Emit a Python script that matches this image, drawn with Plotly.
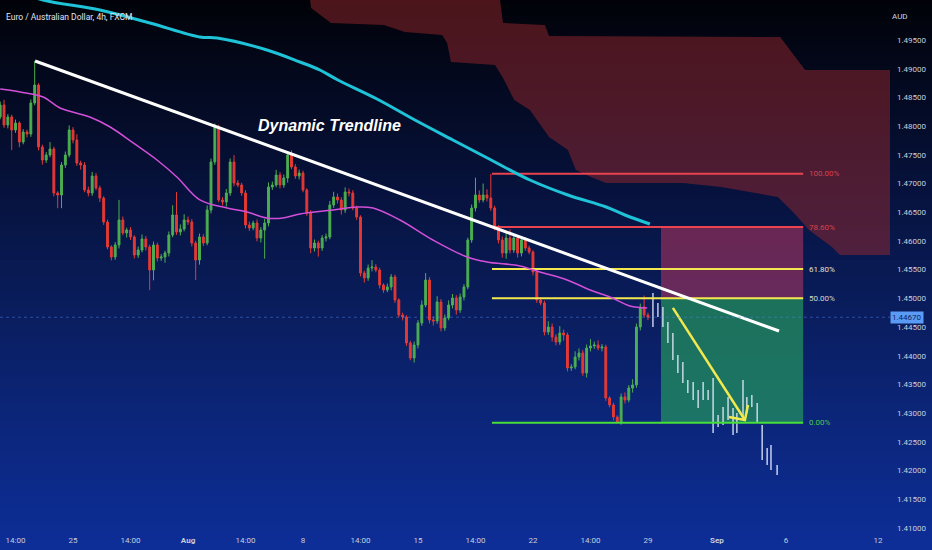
import plotly.graph_objects as go

# EUR/AUD 4h candles, x = bar index (0 = Mon 25 Jul 2022 00:00, 30 bars per trading week)
bar_idx = list(range(-19, 151))
first_open = 1.48159
closes = [
    1.48368, 1.48019, 1.48159, 1.47932, 1.48054, 1.47723, 1.47897, 1.47862, 1.48403, 1.48716,
    1.47636, 1.47409, 1.47497, 1.47601, 1.46835, 1.46800, 1.47322, 1.47497, 1.47932, 1.47758,
    1.47357, 1.47322, 1.46887, 1.46835, 1.47131, 1.46922, 1.46747, 1.46329, 1.45894, 1.45720,
    1.45929, 1.46364, 1.46138, 1.46190, 1.46068, 1.45754, 1.45841, 1.46033, 1.45894, 1.45493,
    1.45929, 1.45702, 1.45720, 1.45789, 1.46103, 1.46451, 1.46155, 1.46207, 1.46364, 1.46329,
    1.45963, 1.45667, 1.46068, 1.45963, 1.46538, 1.47375, 1.47984, 1.46713, 1.46678, 1.46835,
    1.47375, 1.47009, 1.46974, 1.46835, 1.46277, 1.46225, 1.46312, 1.46051, 1.46190, 1.46312,
    1.46939, 1.46974, 1.47148, 1.46974, 1.47096, 1.47497, 1.47288, 1.47131, 1.47183, 1.46887,
    1.46486, 1.45876, 1.45963, 1.45876, 1.46051, 1.46068, 1.46626, 1.46765, 1.46713, 1.46538,
    1.46852, 1.46835, 1.46573, 1.46416, 1.45441, 1.45354, 1.45528, 1.45545, 1.45493, 1.45232,
    1.45145, 1.45197, 1.45371, 1.44970, 1.44709, 1.44674, 1.44221, 1.43960, 1.44186, 1.44570,
    1.44883, 1.45319, 1.44622, 1.44605, 1.44936, 1.44483, 1.44657, 1.44883, 1.45005, 1.44796,
    1.45023, 1.45197, 1.46016, 1.46573, 1.46800, 1.46713, 1.46800, 1.46747, 1.46573, 1.46225,
    1.46016, 1.45789, 1.46051, 1.45841, 1.46051, 1.45789, 1.46016, 1.45876, 1.45807, 1.45458,
    1.44970, 1.44918, 1.44413, 1.44500, 1.44326, 1.44239, 1.44396, 1.44361, 1.43786, 1.43803,
    1.43977, 1.44047, 1.43699, 1.44134, 1.44169, 1.44186, 1.44134, 1.44152, 1.43263, 1.43141,
    1.42932, 1.42845, 1.43281, 1.43228, 1.43437, 1.43490, 1.44500, 1.44848, 1.44709, 1.44670,
]
# wick lengths in pips above / below the body
wick_up = [
    6, 9, 5, 4, 6, 3, 5, 4, 6, 42,
    3, 4, 5, 12, 4, 3, 5, 6, 8, 5,
    10, 4, 5, 6, 7, 5, 4, 3, 4, 3,
    5, 35, 6, 4, 5, 3, 6, 8, 5, 4,
    6, 4, 5, 4, 6, 17, 40, 8, 10, 6,
    5, 4, 6, 5, 8, 6, 6, 4, 5, 7,
    6, 12, 5, 4, 5, 6, 4, 6, 5, 7,
    8, 6, 9, 5, 6, 4, 8, 5, 6, 4,
    3, 5, 6, 4, 5, 6, 7, 9, 6, 5,
    8, 6, 5, 4, 3, 4, 6, 12, 5, 4,
    3, 6, 5, 4, 3, 4, 3, 4, 6, 5,
    8, 12, 5, 6, 10, 5, 6, 8, 7, 5,
    6, 5, 4, 6, 30, 8, 20, 10, 42, 4,
    5, 6, 8, 15, 6, 5, 6, 5, 4, 3,
    4, 5, 4, 10, 6, 5, 12, 6, 4, 5,
    10, 8, 5, 6, 12, 6, 8, 5, 4, 3,
    4, 3, 6, 8, 5, 10, 6, 6, 20, 4,
]
wick_dn = [
    4, 5, 6, 35, 5, 9, 4, 6, 5, 4,
    6, 8, 5, 4, 6, 23, 23, 5, 4, 6,
    5, 8, 4, 6, 5, 4, 7, 5, 4, 6,
    5, 6, 4, 8, 5, 6, 5, 4, 6, 35,
    18, 6, 5, 10, 6, 4, 5, 6, 4, 5,
    6, 35, 8, 5, 4, 6, 5, 4, 6, 8,
    5, 6, 4, 5, 6, 5, 4, 6, 8, 50,
    6, 5, 4, 6, 5, 8, 4, 5, 6, 4,
    5, 9, 6, 15, 5, 6, 4, 5, 6, 8,
    5, 6, 4, 5, 6, 8, 5, 6, 4, 6,
    5, 4, 6, 5, 4, 6, 5, 4, 8, 6,
    5, 4, 6, 8, 5, 6, 5, 4, 6, 8,
    5, 6, 4, 5, 6, 5, 4, 6, 5, 4,
    6, 8, 10, 6, 5, 8, 6, 5, 4, 6,
    5, 4, 6, 5, 8, 6, 5, 10, 6, 5,
    4, 6, 5, 8, 6, 5, 4, 6, 5, 4,
    6, 2, 5, 6, 4, 8, 5, 6, 4, 5,
]

# projected "ghost" bars
ghost_x = [151.3, 152.6, 153.9, 155.2, 156.5, 157.8, 159.1, 160.4, 161.8, 163.1, 164.4, 165.7, 167.0,
           168.3, 169.6, 170.9, 172.2, 173.2, 174.8, 175.8, 177.1, 178.5, 179.8, 181.1, 182.1, 183.7]
ghost_hi = [1.45092, 1.44918, 1.44848, 1.44587, 1.44396, 1.44012, 1.43890, 1.43577, 1.43542, 1.43402,
            1.43542, 1.43402, 1.43612, 1.42967, 1.43106, 1.43281, 1.43089, 1.43002, 1.43577, 1.43281,
            1.43315, 1.43176, 1.42793, 1.42392, 1.42444, 1.42096]
ghost_lo = [1.44500, 1.44674, 1.44500, 1.44221, 1.43925, 1.43699, 1.43524, 1.43350, 1.43228, 1.43089,
            1.43228, 1.43228, 1.42653, 1.42758, 1.42793, 1.42880, 1.42618, 1.42653, 1.42880, 1.43002,
            1.43106, 1.42828, 1.42183, 1.42096, 1.42009, 1.41922]

# moving averages
ma200_x = [-19.0, -7.8, 7.0, 20.1, 33.1, 37.6, 50.6, 59.2, 64.4, 69.1, 79.3, 89.2, 99.1, 109.1,
           119.2, 129.1, 139.1, 144.0, 150.5]
ma200_y = [1.5045, 1.50197, 1.50023, 1.49796, 1.49552, 1.49535, 1.49326, 1.49117, 1.48977, 1.48803,
           1.48472, 1.48106, 1.47758, 1.47409, 1.47061, 1.46800, 1.46591, 1.46451, 1.46294]
ma50_x = [-19.0, -13.8, -7.8, -3.4, 4.4, 9.7, 15.7, 21.9, 27.1, 33.1, 40.2, 45.4, 50.6, 54.8, 59.2,
          67.8, 74.1, 78.3, 85.3, 93.9, 102.8, 108.0, 116.6, 121.8, 128.9, 134.9, 140.1, 145.3, 149.8]
ma50_y = [1.48646, 1.48594, 1.48507, 1.48315, 1.48159, 1.47984, 1.47706, 1.47409, 1.47113, 1.46713,
          1.46573, 1.46503, 1.46399, 1.46399, 1.46469, 1.46538, 1.46591, 1.46573, 1.46364, 1.46016,
          1.45720, 1.45633, 1.45563, 1.45458, 1.45319, 1.45145, 1.45023, 1.44866, 1.44831]

# cloud (upper and lower edges)
cloud_top_x = [61.0, 110.6, 112.2, 123.1, 124.2, 184.5, 191.0, 213.4]
cloud_top_y = [1.5060, 1.5060, 1.49796, 1.49761, 1.49570, 1.49552, 1.48977, 1.48977]
cloud_bot_x = [61.3, 62.1, 67.3, 81.1, 86.6, 96.3, 97.6, 98.6, 110.1, 112.2, 115.1, 119.2, 124.2,
               129.1, 131.2, 135.1, 139.1, 159.1, 169.1, 183.9, 188.1, 192.0, 198.0, 200.1, 213.4]
cloud_bot_y = [1.5050, 1.50058, 1.49796, 1.49761, 1.49639, 1.49587, 1.49448, 1.49117, 1.49064,
               1.48838, 1.48455, 1.48280, 1.47810, 1.47584, 1.47235, 1.47113, 1.47009, 1.47009,
               1.46939, 1.46765, 1.46486, 1.46190, 1.45894, 1.45754, 1.45754]

# drawings
trend_x = [-9.9, 184.2]
trend_y = [1.49134, 1.44430]
fib_x = [109.3, 190.5]
fib_levels = [1.4717, 1.4624, 1.4551, 1.4500, 1.4283]
fib_labels = ["100.00%", "78.60%", "61.80%", "50.00%", "0.00%"]
box_x = [153.4, 190.5]
arrow_x = [156.5, 175.3]
arrow_y = [1.44833, 1.42880]
head_x = [171.1, 176.1]
head_y = [1.42932, 1.43141]

price_ticks = [1.410, 1.415, 1.420, 1.425, 1.430, 1.435, 1.440, 1.445, 1.450,
               1.455, 1.460, 1.465, 1.470, 1.475, 1.480, 1.485, 1.490, 1.495]
time_ticks = [-15, 0, 15, 30, 45, 60, 75, 90, 105, 120, 135, 150, 168, 186, 210]
time_labels = ["14:00", "25", "14:00", "<b>Aug</b>", "14:00", "8", "14:00", "15", "14:00", "22",
               "14:00", "29", "<b>Sep</b>", "6", "12"]

GREEN = "#4caf50"
RED = "#e53935"
FIB_COLORS = ["#e8434f", "#e8434f", "#f3e94f", "#f3e94f", "#4ade3a"]
FIB_TEXT = ["#d8404c", "#d8404c", "#e6e2c4", "#d9d6c4", "#4cc94a"]

opens = [first_open] + closes[:-1]
highs = [max(o, c) + u * 0.0001 for o, c, u in zip(opens, closes, wick_up)]
lows = [min(o, c) - d * 0.0001 for o, c, d in zip(opens, closes, wick_dn)]

fig = go.Figure()

fig.add_trace(go.Scatter(
    x=cloud_top_x + cloud_bot_x[::-1], y=cloud_top_y + cloud_bot_y[::-1],
    fill="toself", fillcolor="rgba(150,40,45,0.5)", mode="lines", line=dict(width=0)))

for lv, col in zip(fib_levels, FIB_COLORS):
    fig.add_trace(go.Scatter(x=fib_x, y=[lv, lv], mode="lines", line=dict(color=col, width=2)))

fig.add_trace(go.Candlestick(
    x=bar_idx, open=opens, high=highs, low=lows, close=closes, whiskerwidth=0,
    increasing=dict(line=dict(color=GREEN, width=1), fillcolor=GREEN),
    decreasing=dict(line=dict(color=RED, width=1), fillcolor=RED)))

fig.add_trace(go.Bar(
    x=ghost_x, y=[h - l for h, l in zip(ghost_hi, ghost_lo)], base=ghost_lo, width=0.4,
    marker=dict(color="rgba(225,232,250,0.85)", line=dict(width=0))))

fig.add_trace(go.Scatter(x=ma50_x, y=ma50_y, mode="lines",
                         line=dict(color="#d24fd8", width=1.5, shape="spline")))
fig.add_trace(go.Scatter(x=ma200_x, y=ma200_y, mode="lines",
                         line=dict(color="#1fc3d8", width=3, shape="spline")))
fig.add_trace(go.Scatter(x=trend_x, y=trend_y, mode="lines", line=dict(color="white", width=3)))
fig.add_trace(go.Scatter(
    x=arrow_x + [None, head_x[0], arrow_x[1], head_x[1]],
    y=arrow_y + [None, head_y[0], arrow_y[1], head_y[1]],
    mode="lines", line=dict(color="#f2e94e", width=2.5)))

# background gradient (black at top, deep blue at bottom)
stops = [(0.0, (1, 2, 8)), (0.2, (4, 11, 38)), (0.5, (9, 26, 84)), (0.75, (11, 37, 120)), (1.0, (13, 46, 152))]


def grad(t):
    for (t0, c0), (t1, c1) in zip(stops[:-1], stops[1:]):
        if t <= t1:
            f = (t - t0) / (t1 - t0)
            return "rgb(%d,%d,%d)" % tuple(round(a + (b - a) * f) for a, b in zip(c0, c1))
    return "rgb(%d,%d,%d)" % stops[-1][1]


n_band = 110
for k in range(n_band):
    top_px = k * 5
    fig.add_shape(type="rect", xref="paper", yref="paper", x0=-0.01, x1=1.06,
                  y0=1 - (top_px + 6) / 530, y1=1 - top_px / 530,
                  fillcolor=grad((k + 0.5) / n_band), line=dict(width=0), layer="below")

# risk / reward boxes
fig.add_shape(type="rect", x0=box_x[0], x1=box_x[1], y0=fib_levels[3], y1=fib_levels[1],
              fillcolor="rgba(200,55,95,0.5)", line=dict(width=0), layer="below")
fig.add_shape(type="rect", x0=box_x[0], x1=box_x[1], y0=fib_levels[4], y1=fib_levels[3],
              fillcolor="rgba(40,170,90,0.6)", line=dict(width=0), layer="below")

# last price line
fig.add_shape(type="line", xref="paper", x0=0, x1=1, y0=closes[-1], y1=closes[-1],
              line=dict(color="rgba(90,140,230,0.45)", width=1, dash="dot"))

for lv, lab, col in zip(fib_levels, fib_labels, FIB_TEXT):
    fig.add_annotation(x=fib_x[1] + 1.1, y=lv, text=lab, showarrow=False, xanchor="left",
                       font=dict(size=8, color=col))

fig.add_annotation(x=66.8, y=1.48002, text="Dynamic Trendline", showarrow=False,
                   font=dict(family="Liberation Sans", size=16, color="white",
                             weight="bold", style="italic"))
fig.add_annotation(xref="paper", yref="paper", x=0.005, y=0.981, xanchor="left",
                   text="Euro / Australian Dollar, 4h, FXCM", showarrow=False,
                   font=dict(size=8.5, color="#e0e3ec"))
fig.add_annotation(xref="paper", yref="paper", x=1.0225, y=0.981, text="AUD", showarrow=False,
                   font=dict(size=8, color="#d0d5e2"))
fig.add_annotation(xref="paper", x=1.0, y=closes[-1], xanchor="left", text="%.5f" % closes[-1],
                   showarrow=False, bgcolor="#5a9cf5", borderpad=1,
                   font=dict(size=8, color="#10245a"))

fig.update_layout(
    width=932, height=550,
    margin=dict(l=0, r=42, t=0, b=20),
    paper_bgcolor="#000000", plot_bgcolor="rgba(0,0,0,0)",
    showlegend=False, hovermode=False,
    font=dict(family="Roboto", color="#c8cedc"),
    xaxis=dict(range=[-19.05, 213.15], showgrid=False, zeroline=False, showline=False,
               tickvals=time_ticks, ticktext=time_labels, tickfont=dict(size=8, color="#c8cedc"),
               ticks="", automargin=False, ticklabelstandoff=4, rangeslider=dict(visible=False)),
    yaxis=dict(range=[1.40963, 1.50197], side="right", showgrid=False, zeroline=False,
               showline=False, tickvals=price_ticks, ticktext=["%.5f" % v for v in price_ticks],
               tickfont=dict(size=8, color="#c8cedc"), ticks="", automargin=False,
               ticklabelstandoff=6),
)

# page has a default 8px body margin; drop it so the chart fills the window
fig.write_html("out.html", config={"displayModeBar": False},
               post_script="document.body.style.margin='0';"
                           "document.body.style.background='#000';")
